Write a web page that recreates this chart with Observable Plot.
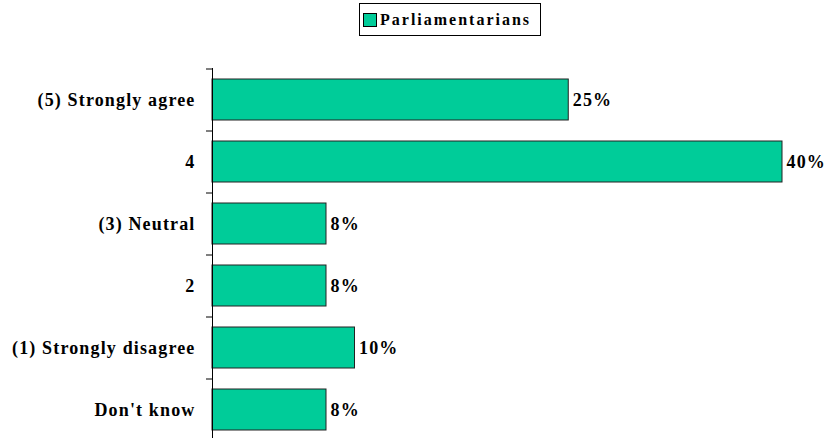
<!DOCTYPE html>
<html>
<head>
<meta charset="utf-8">
<script src="https://cdn.jsdelivr.net/npm/d3@7"></script>
<script src="https://cdn.jsdelivr.net/npm/@observablehq/plot@0.6"></script>
<style>
  html, body { margin: 0; padding: 0; background: #fff; overflow: hidden; }
  #legend { height: 40px; position: relative; }
  #legend .box {
    position: absolute; left: 359px; top: 3px; width: 182px; height: 33px;
    border: 1px solid #000; box-sizing: border-box;
    font-family: "Liberation Serif", "Times New Roman", serif; font-weight: bold;
    font-size: 16px; letter-spacing: 2px; display: flex; align-items: center;
  }
  #legend .sw { width: 14px; height: 14px; background: #00CC99; border: 1px solid #000; box-sizing: border-box; margin: 0 3px 0 3px; }
</style>
</head>
<body>
<div id="legend"></div>
<div id="chart"></div>
<script>
const categories = ["(5) Strongly agree", "4", "(3) Neutral", "2", "(1) Strongly disagree", "Don't know"];
const values = [25, 40, 8, 8, 10, 8];
const seriesName = "Parliamentarians";
const barColor = "#00CC99";

const data = categories.map((c, i) => ({category: c, value: values[i]}));

document.getElementById("legend").innerHTML =
  `<div class="box"><div class="sw"></div><span>${seriesName}</span></div>`;

const font = "Liberation Serif, Times New Roman, serif";
const chart = Plot.plot({
  width: 827,
  height: 400,
  marginTop: 28,
  marginBottom: 0,
  marginLeft: 212,
  marginRight: 45,
  style: {fontFamily: font, fontWeight: "bold", fontSize: "18px", letterSpacing: "1.15px", color: "#000", background: "#fff"},
  x: {domain: [0, 40], axis: null},
  y: {domain: categories, paddingInner: 0.34, paddingOuter: 0.17, label: null},
  marks: [
    Plot.barX(data, {x: "value", y: "category", fill: barColor, stroke: "#222", strokeWidth: 1}),
    Plot.text(data, {x: "value", y: "category", text: d => d.value + "%", textAnchor: "start", dx: 4, fontSize: 18, fontWeight: "bold", fill: "#000"}),
    Plot.ruleX([0], {stroke: "#000", strokeWidth: 1}),
    Plot.axisY({tickSize: 6, dy: -31, text: null, stroke: "#000"}),
    Plot.axisY({tickSize: 0, tickPadding: 17, fontSize: 18, fontWeight: "bold", fill: "#000"})
  ]
});
document.getElementById("chart").appendChild(chart);
</script>
</body>
</html>
